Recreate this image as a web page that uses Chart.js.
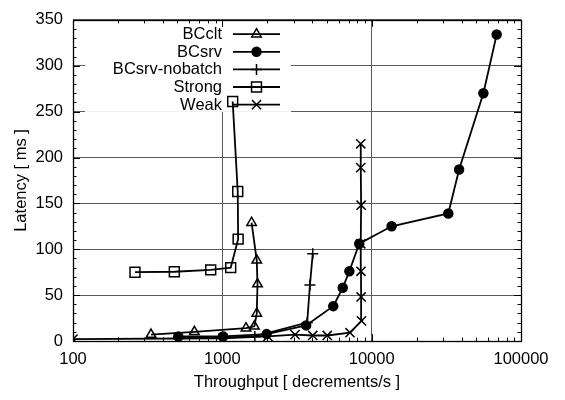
<!DOCTYPE html>
<html>
<head>
<meta charset="utf-8">
<script src="https://cdn.jsdelivr.net/npm/chart.js@4"></script>
<style>
  html, body { margin: 0; padding: 0; background: #fff; }
  #wrap { width: 565px; height: 400px; }
</style>
</head>
<body>
<div id="wrap"><canvas id="c" width="565" height="400"></canvas></div>
<script>
// ---- data ----
const seriesNames = ['BCclt', 'BCsrv', 'BCsrv-nobatch', 'Strong', 'Weak'];

const bccltX = [333, 650, 1440, 1640, 1700, 1720, 1700, 1570];
const bccltY = [7, 10, 14, 16, 30, 62, 88, 129];

const bcsrvX = [507, 1010, 1980, 3640, 5530, 6400, 7090, 8260, 13600, 32600, 38500, 56000, 68700];
const bcsrvY = [5, 5, 7.5, 17, 38, 58, 76, 106, 125, 139, 187, 270, 334];

const nobatchX = [507, 1040, 1650, 3700, 3860, 4030];
const nobatchY = [3, 4, 5, 20, 61, 95];

const strongX = [260, 477, 836, 1138, 1276, 1268, 1173];
const strongY = [75, 75.5, 77.5, 80, 111, 163, 261];

const weakX = [100, 1010, 2020, 3070, 4030, 5040, 7160, 8550, 8500, 8480, 8450, 8500, 8450, 8450];
const weakY = [2, 3, 5, 7, 6, 6, 9, 22, 48, 76, 106, 148, 189, 215];

const xTickValues = [100, 1000, 10000, 100000];
const yTickStep = 50;

// ---- build ----
function pts(xs, ys) { return xs.map((x, i) => ({ x: x, y: ys[i] })); }

const FONT = 'Liberation Sans';
const FSIZE = 16.5;

const styles = [
  { pointStyle: 'triangle', pointRadius: 5.5, pointBackgroundColor: 'rgba(0,0,0,0)' },
  { pointStyle: 'circle',   pointRadius: 4.5, pointBackgroundColor: '#000' },
  { pointStyle: 'cross',    pointRadius: 5.5, pointBackgroundColor: 'rgba(0,0,0,0)' },
  { pointStyle: 'rect',     pointRadius: 7,   pointBackgroundColor: 'rgba(0,0,0,0)' },
  { pointStyle: 'crossRot', pointRadius: 6.5, pointBackgroundColor: 'rgba(0,0,0,0)' }
];
const dataSets = [pts(bccltX, bccltY), pts(bcsrvX, bcsrvY), pts(nobatchX, nobatchY), pts(strongX, strongY), pts(weakX, weakY)];

const datasets = seriesNames.map((n, i) => Object.assign({
  label: n,
  data: dataSets[i],
  borderColor: '#000',
  borderWidth: 1.8,
  pointBorderColor: '#000',
  pointBorderWidth: 1.5,
  pointHoverRadius: 0,
  tension: 0,
  fill: false,
  showLine: true
}, styles[i]));

function drawMarker(ctx, st, x, y) {
  ctx.save();
  ctx.fillStyle = st.pointBackgroundColor;
  ctx.strokeStyle = '#000';
  ctx.lineWidth = 1.5;
  if (Chart.helpers && Chart.helpers.drawPoint) {
    Chart.helpers.drawPoint(ctx, { pointStyle: st.pointStyle, radius: st.pointRadius, borderWidth: 1.5, rotation: 0 }, x, y);
  }
  ctx.restore();
}

const legendPlugin = {
  id: 'gpLegend',
  beforeDatasetsDraw(chart) {
    const ctx = chart.ctx;
    const ca = chart.chartArea;
    ctx.save();
    ctx.fillStyle = '#fff';
    ctx.fillRect(ca.left + 12, ca.top + 1, 206, 91);
    ctx.font = FSIZE + 'px "' + FONT + '"';
    ctx.textAlign = 'right';
    ctx.textBaseline = 'middle';
    const textRight = ca.left + 149;
    const lx0 = ca.left + 160, lx1 = ca.left + 207, mx = ca.left + 183.5;
    chart.data.datasets.forEach((ds, i) => {
      const y = ca.top + 14.3 + i * 17.6;
      ctx.fillStyle = '#000';
      ctx.fillText(ds.label, textRight, y + 0.5);
      ctx.strokeStyle = '#000';
      ctx.lineWidth = 1.8;
      ctx.beginPath();
      ctx.moveTo(lx0, y); ctx.lineTo(lx1, y);
      ctx.stroke();
      drawMarker(ctx, ds, mx, y);
    });
    ctx.restore();
  },
  afterDraw(chart) {
    const ctx = chart.ctx;
    const ca = chart.chartArea;
    const xs = chart.scales.x, ys = chart.scales.y;
    ctx.save();
    ctx.strokeStyle = '#000';
    ctx.lineWidth = 1;
    ctx.beginPath();
    // x ticks (log, major + minor), bottom and top
    for (let e = 2; e <= 5; e++) {
      for (let k = 1; k <= 9; k++) {
        const v = k * Math.pow(10, e);
        if (v > 100000) break;
        const px = Math.round(xs.getPixelForValue(v)) + 0.5;
        const len = k === 1 ? 7 : 3.5;
        ctx.moveTo(px, ca.bottom); ctx.lineTo(px, ca.bottom - len);
        ctx.moveTo(px, ca.top); ctx.lineTo(px, ca.top + len);
      }
    }
    // y ticks
    for (let v = 0; v <= 350; v += 10) {
      const py = Math.round(ys.getPixelForValue(v)) + 0.5;
      const len = v % 50 === 0 ? 7 : 3.5;
      ctx.moveTo(ca.left, py); ctx.lineTo(ca.left + len, py);
      ctx.moveTo(ca.right, py); ctx.lineTo(ca.right - len, py);
    }
    ctx.stroke();
    ctx.lineWidth = 1.3;
    ctx.strokeRect(Math.round(ca.left) + 0.5, Math.round(ca.top) + 0.5, Math.round(ca.right - ca.left), Math.round(ca.bottom - ca.top));
    ctx.restore();
  }
};

new Chart(document.getElementById('c'), {
  type: 'line',
  data: { datasets: datasets },
  plugins: [legendPlugin],
  options: {
    responsive: false,
    animation: false,
    devicePixelRatio: 1,
    layout: { padding: { left: 0, top: 9, right: 44, bottom: 0 } },
    plugins: { legend: { display: false }, tooltip: { enabled: false } },
    elements: { line: { tension: 0 } },
    scales: {
      x: {
        type: 'logarithmic',
        min: 100, max: 100000,
        afterBuildTicks: (s) => { s.ticks = xTickValues.map(v => ({ value: v })); },
        afterFit: (s) => { s.height = 59; },
        ticks: {
          autoSkip: false, maxRotation: 0,
          color: '#000', padding: 9,
          font: { family: FONT, size: FSIZE },
          callback: (v) => String(v)
        },
        grid: { color: '#5a5a5a', lineWidth: 1, drawTicks: false },
        border: { display: false },
        title: {
          display: true, text: 'Throughput [ decrements/s ]', color: '#000',
          font: { family: FONT, size: FSIZE }, padding: { top: 0, bottom: 8 }
        }
      },
      y: {
        type: 'linear',
        min: 0, max: 350,
        afterFit: (s) => { s.width = 73; },
        ticks: {
          stepSize: yTickStep,
          color: '#000', padding: 10,
          font: { family: FONT, size: FSIZE }
        },
        grid: { color: '#5a5a5a', lineWidth: 1, drawTicks: false },
        border: { display: false },
        title: {
          display: true, text: 'Latency [ ms ]', color: '#000',
          font: { family: FONT, size: FSIZE }, padding: { top: 12, bottom: 0 }
        }
      }
    }
  }
});
</script>
</body>
</html>
